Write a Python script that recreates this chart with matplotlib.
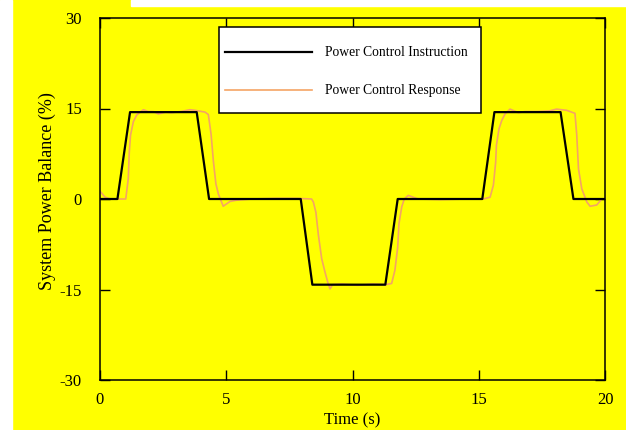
import matplotlib
matplotlib.use("Agg")
import matplotlib.pyplot as plt
from matplotlib.patches import Rectangle

# Power control instruction (black)
t_cmd = [0, 0.69, 1.19, 3.83, 4.32, 7.95, 8.41, 11.3, 11.79, 15.14, 15.62, 18.24, 18.75, 20]
v_cmd = [0, 0, 14.4, 14.4, 0, 0, -14.2, -14.2, 0, 0, 14.4, 14.4, 0, 0]

# Power control response (orange)
t_resp = [0, 0.2, 0.4, 0.7, 1.02, 1.12, 1.16, 1.21, 1.32, 1.45, 1.65, 1.72, 1.91, 2.11,
          2.31, 2.6, 2.84, 3.2, 3.56, 3.76, 4.16, 4.29, 4.40, 4.49, 4.59, 4.69, 4.88,
          5.15, 5.4, 6.0, 7.0, 7.8, 8.38, 8.45, 8.55, 8.65, 8.78, 8.91, 9.02, 9.11,
          9.21, 9.6, 10.2, 10.8, 11.3, 11.55, 11.68, 11.79, 11.84, 11.95, 12.05, 12.21,
          12.4, 12.6, 13.5, 14.5, 15.18, 15.45, 15.58, 15.67, 15.7, 15.8, 15.91, 16.04,
          16.24, 16.57, 16.83, 17.3, 17.8, 18.08, 18.48, 18.81, 18.88, 18.95, 19.08,
          19.28, 19.41, 19.67, 19.87, 20.0]
v_resp = [1.3, 0.3, 0, 0, 0, 3.4, 7.8, 10.6, 12.8, 13.9, 14.6, 14.8, 14.5, 14.5,
          14.1, 14.4, 14.3, 14.5, 14.8, 14.7, 14.4, 14.0, 10.7, 6.3, 2.5, 0.8, -1.2,
          -0.4, -0.2, 0, 0.1, 0.1, 0, -0.5, -2.2, -6.0, -9.9, -12.1, -13.8, -14.9,
          -14.2, -14.1, -14.3, -14.1, -14.2, -14.0, -11.8, -8.0, -4.1, -1.3, 0, 0.6,
          0.3, 0, -0.1, 0, 0, 0.3, 2.3, 6.1, 8.9, 11.6, 13.0, 14.1,
          14.9, 14.3, 14.5, 14.5, 14.6, 14.9, 14.7, 14.2, 10.7, 5.0, 1.7,
          -0.5, -1.2, -1.0, 0, 0]

x_ticks = [0, 5, 10, 15, 20]
y_ticks = [-30, -15, 0, 15, 30]

plt.rcParams['font.family'] = ['Liberation Serif', 'DejaVu Serif']
plt.rcParams['axes.unicode_minus'] = False

fig = plt.figure(figsize=(6.26, 4.30), dpi=100, facecolor='#ffff00')
# white margins around the yellow page
fig.patches.append(Rectangle((0, 0), 12 / 626, 1, transform=fig.transFigure,
                             color='white', zorder=-10))
fig.patches.append(Rectangle((131 / 626, 1 - 6 / 430), 1, 6 / 430,
                             transform=fig.transFigure, color='white', zorder=-10))

ax = fig.add_axes([100 / 626, 1 - 380 / 430, 505 / 626, 362 / 430])
ax.set_facecolor('#ffff00')

ax.plot(t_resp, v_resp, color='#f5a465', lw=1.2, zorder=2)
ax.plot(t_cmd, v_cmd, color='black', lw=1.6, zorder=3)

ax.set_xlim(0, 20)
ax.set_ylim(-30, 30)
ax.set_xticks(x_ticks)
ax.set_yticks(y_ticks)
ax.tick_params(direction='in', length=7, width=1, top=True, right=True,
               labelsize=12, colors='black')
ax.tick_params(axis='y', pad=13)
ax.tick_params(axis='x', pad=9)
for s in ax.spines.values():
    s.set_linewidth(1.1)

ax.set_xlabel('Time (s)', fontsize=12, labelpad=3)
ax.set_ylabel('System Power Balance (%)', fontsize=13)
ax.yaxis.set_label_coords(-0.088, 0.522)

# legend box
ax.add_patch(Rectangle((0.236, 0.738), 0.519, 0.237, transform=ax.transAxes,
                       facecolor='white', edgecolor='black', lw=1.1, zorder=5))
ax.plot([0.248, 0.420], [0.906, 0.906], transform=ax.transAxes, color='black',
        lw=1.6, zorder=6)
ax.plot([0.248, 0.420], [0.801, 0.801], transform=ax.transAxes, color='#f5a465',
        lw=1.2, zorder=6)
ax.text(0.446, 0.906, 'Power Control Instruction', transform=ax.transAxes,
        fontsize=9.8, va='center', ha='left', zorder=6)
ax.text(0.446, 0.801, 'Power Control Response', transform=ax.transAxes,
        fontsize=9.8, va='center', ha='left', zorder=6)

fig.savefig('out.png', dpi=100, facecolor=fig.get_facecolor())
